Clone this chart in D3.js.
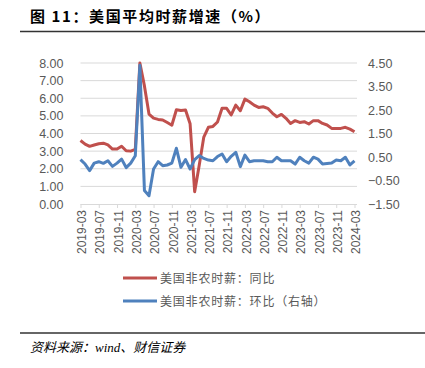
<!DOCTYPE html>
<html>
<head>
<meta charset="utf-8">
<script src="https://cdn.jsdelivr.net/npm/d3@7"></script>
<style>
  body { margin: 0; background: #fff; }
  svg { display: block; }
</style>
</head>
<body>
<div id="chart"></div>
<script>
const w = 425;
const h = 368;

// monthly categories 2019-03 .. 2024-03
const fmtMonth = d3.timeFormat("%Y-%m");
const months = d3.timeMonths(new Date(2019, 2, 1), new Date(2024, 3, 1)).map(fmtMonth);

// 同比 (left axis)
const yoy = [3.60, 3.40, 3.27, 3.35, 3.42, 3.45, 3.35, 3.12, 3.12, 3.28,
             3.02, 3.00, 3.10, 8.00, 6.70, 5.10, 4.87, 4.80, 4.77, 4.62,
             4.47, 5.35, 5.30, 5.33, 4.55, 0.70, 2.20, 3.80, 4.35, 4.40,
             4.65, 5.43, 5.43, 5.05, 5.61, 5.29, 5.95, 5.80, 5.61, 5.48,
             5.52, 5.43, 5.16, 4.95, 5.08, 4.86, 4.57, 4.73, 4.63, 4.67,
             4.54, 4.73, 4.73, 4.57, 4.48, 4.29, 4.29, 4.29, 4.35, 4.25,
             4.10];

// 环比 (right axis)
const mom = [0.39, 0.20, -0.08, 0.24, 0.30, 0.23, 0.34, 0.10, 0.24, 0.41,
             0.05, 0.24, 0.55, 4.40, -0.93, -1.15, -0.01, 0.30, 0.13, 0.16,
             0.24, 0.87, 0.06, 0.39, -0.01, 0.39, 0.56, 0.44, 0.37, 0.34,
             0.52, 0.63, 0.30, 0.53, 0.70, 0.09, 0.58, 0.30, 0.34, 0.34,
             0.34, 0.30, 0.30, 0.49, 0.34, 0.34, 0.34, 0.20, 0.49, 0.34,
             0.24, 0.49, 0.41, 0.20, 0.22, 0.24, 0.37, 0.34, 0.49, 0.16,
             0.33];

const leftTicks = [0, 1, 2, 3, 4, 5, 6, 7, 8];
const rightTicks = [-1.5, -0.5, 0.5, 1.5, 2.5, 3.5, 4.5];
const xTickLabels = months.filter((m, i) => i % 4 === 0);

const seriesNames = ["美国非农时薪：同比", "美国非农时薪：环比（右轴）"];
const colors = ["#C0504D", "#4F81BD"];

const plot = { left: 80.5, right: 356, top: 63, bottom: 204 };

let svg = d3.select("#chart").append("svg")
    .attr("width", w)
    .attr("height", h);

// title
svg.append("text")
    .attr("x", 30)
    .attr("y", 22)
    .attr("font-family", "Noto Sans CJK SC")
    .attr("font-weight", 700)
    .attr("font-size", 15)
    .attr("letter-spacing", 1.6)
    .attr("fill", "#000")
    .text("图 11：美国平均时薪增速（%）");

svg.append("line")
    .attr("x1", 20).attr("x2", 425)
    .attr("y1", 31.5).attr("y2", 31.5)
    .attr("stroke", "#333")
    .attr("stroke-width", 1.5);

let xScale = d3.scalePoint()
    .domain(months)
    .range([plot.left, plot.right - 1.5]);

let yLeft = d3.scaleLinear()
    .domain([0, 8])
    .range([plot.bottom, plot.top]);

let yRight = d3.scaleLinear()
    .domain([-1.5, 4.5])
    .range([plot.bottom, plot.top]);

// gridlines
svg.append("g")
    .selectAll("line")
    .data(leftTicks.slice(1))
    .join("line")
    .attr("x1", plot.left).attr("x2", plot.right + 1)
    .attr("y1", d => yLeft(d)).attr("y2", d => yLeft(d))
    .attr("stroke", "#D9D9D9")
    .attr("stroke-width", 1);

// left axis
let leftAxis = svg.append("g")
    .attr("transform", "translate(" + plot.left + ",0)")
    .call(d3.axisLeft(yLeft).tickValues(leftTicks).tickFormat(d3.format(".2f")).tickSize(0).tickPadding(17));
leftAxis.select(".domain").remove();

// right axis
let rightAxis = svg.append("g")
    .attr("transform", "translate(" + plot.right + ",0)")
    .call(d3.axisRight(yRight).tickValues(rightTicks).tickFormat(d3.format(".2f")).tickSize(0).tickPadding(12));
rightAxis.select(".domain").remove();

svg.selectAll(".tick text")
    .attr("font-family", "Liberation Sans, Arial, sans-serif")
    .attr("font-size", 12.5)
    .attr("fill", "#595959");

// x axis
let xAxis = svg.append("g")
    .attr("transform", "translate(0," + plot.bottom + ")")
    .call(d3.axisBottom(xScale).tickValues(xTickLabels).tickSize(4).tickPadding(4));
xAxis.select(".domain")
    .attr("d", "M" + plot.left + ",0.5H" + (plot.right + 1))
    .attr("stroke", "#D9D9D9");
xAxis.selectAll(".tick line").attr("stroke", "#D9D9D9");
xAxis.selectAll(".tick text")
    .attr("font-family", "Liberation Sans, Arial, sans-serif")
    .attr("font-size", 12)
    .attr("fill", "#595959")
    .attr("text-anchor", "end")
    .attr("dy", "0.35em")
    .attr("transform", "translate(1,6) rotate(-90)")
    .attr("x", 0)
    .attr("y", 0);

// lines
let lineLeft = d3.line()
    .x((d, i) => xScale(months[i]))
    .y(d => yLeft(d));

let lineRight = d3.line()
    .x((d, i) => xScale(months[i]))
    .y(d => yRight(d));

svg.append("path")
    .attr("d", lineLeft(yoy))
    .attr("fill", "none")
    .attr("stroke", colors[0])
    .attr("stroke-width", 3)
    .attr("stroke-linejoin", "round");

svg.append("path")
    .attr("d", lineRight(mom))
    .attr("fill", "none")
    .attr("stroke", colors[1])
    .attr("stroke-width", 3)
    .attr("stroke-linejoin", "round");

// legend
let legend = svg.append("g");
seriesNames.forEach((name, i) => {
    let ly = 278 + i * 23;
    legend.append("line")
        .attr("x1", 123).attr("x2", 157)
        .attr("y1", ly).attr("y2", ly)
        .attr("stroke", colors[i])
        .attr("stroke-width", 3);
    legend.append("text")
        .attr("x", 160)
        .attr("y", ly + 4.5)
        .attr("font-family", "Noto Sans CJK SC")
        .attr("font-size", 12)
        .attr("letter-spacing", 0.8)
        .attr("fill", "#595959")
        .text(name);
});

// footer
svg.append("line")
    .attr("x1", 20).attr("x2", 425)
    .attr("y1", 333).attr("y2", 333)
    .attr("stroke", "#333")
    .attr("stroke-width", 1.5);

svg.append("text")
    .attr("x", 30)
    .attr("y", 352)
    .attr("font-family", "Liberation Serif, Noto Sans CJK SC")
    .attr("font-style", "italic")
    .attr("font-size", 13)
    .attr("fill", "#000")
    .text("资料来源：wind、财信证券");
</script>
</body>
</html>
